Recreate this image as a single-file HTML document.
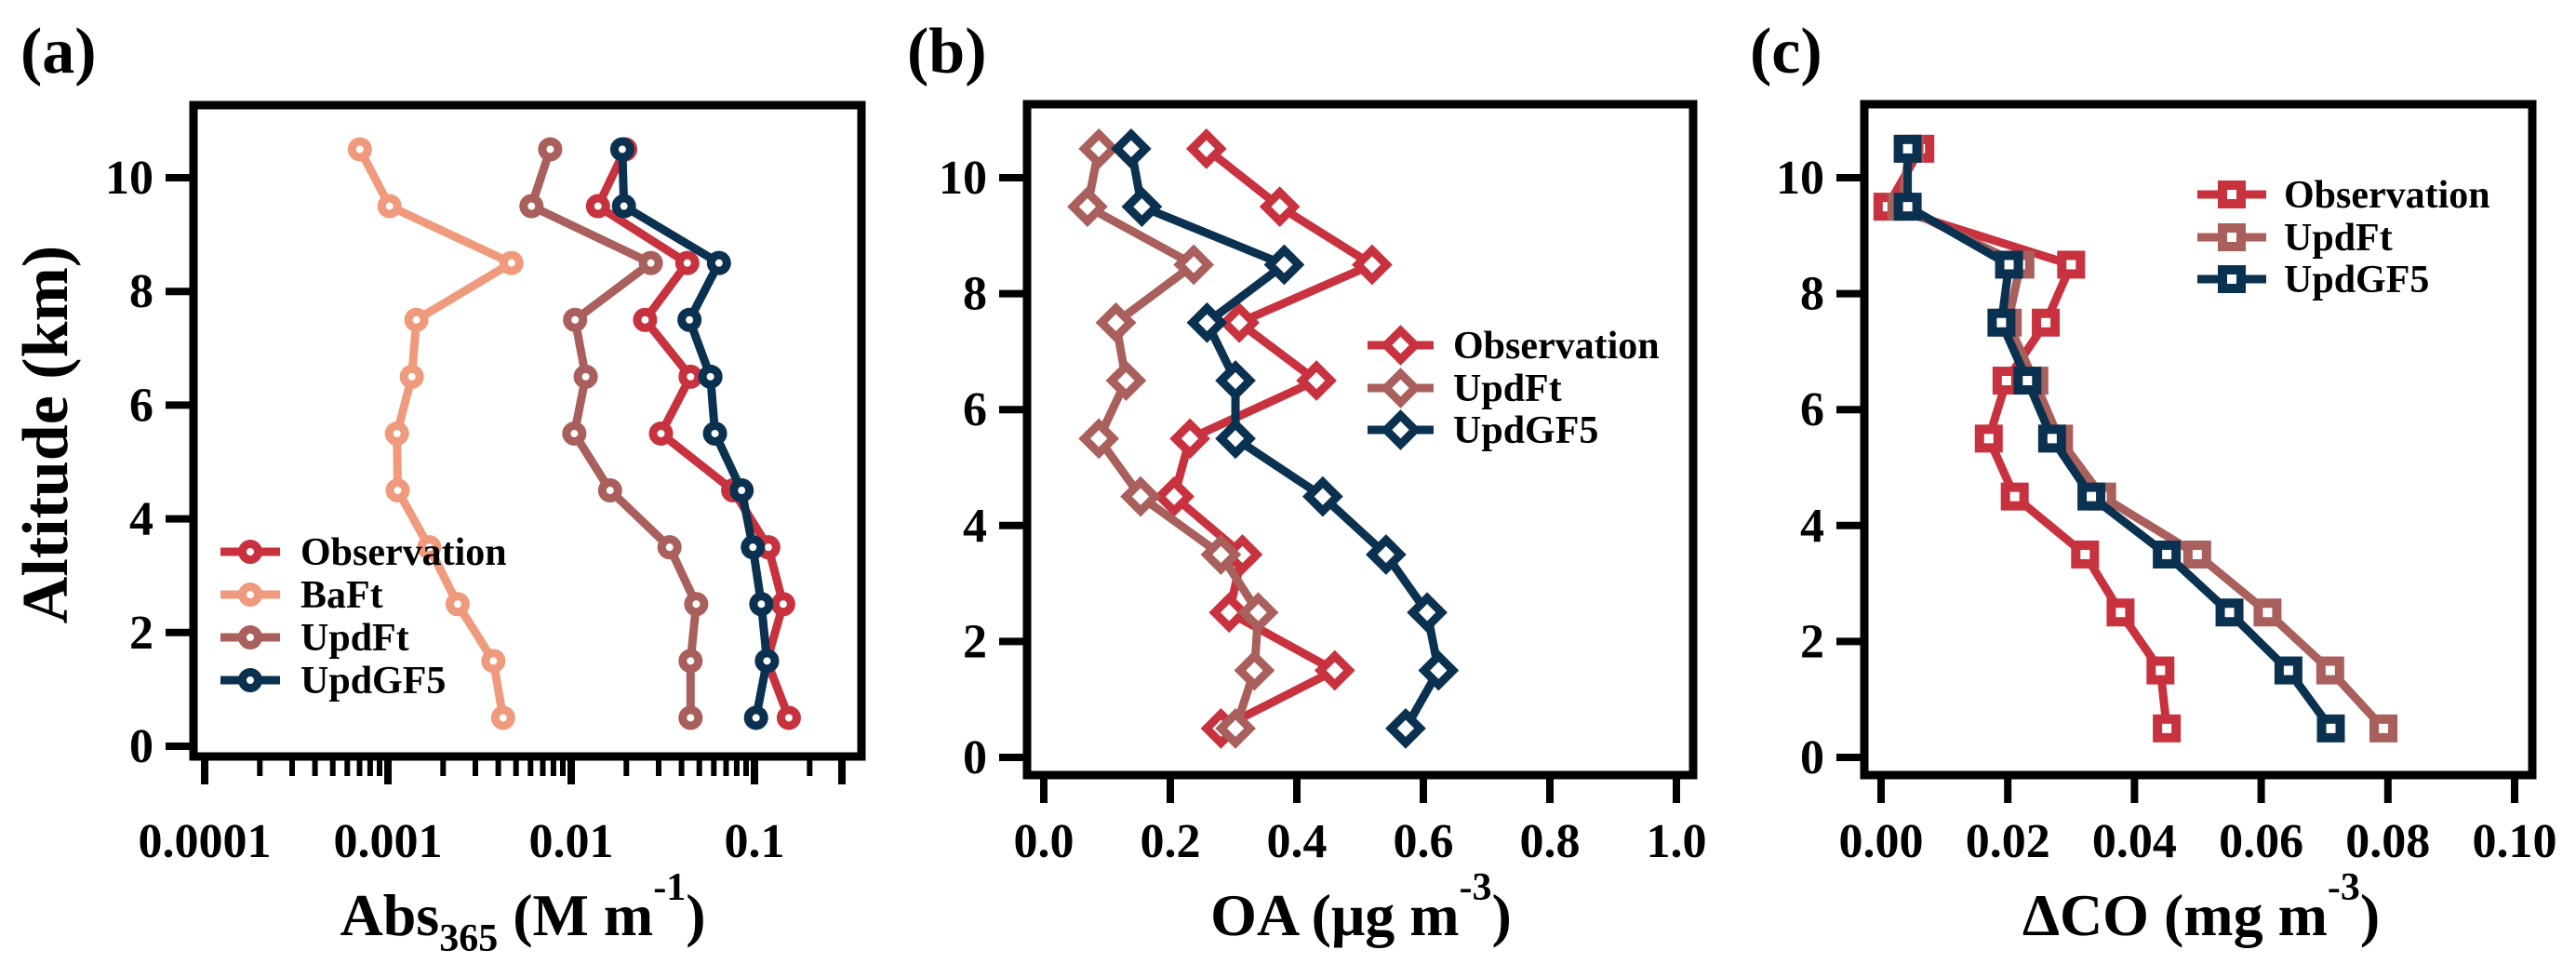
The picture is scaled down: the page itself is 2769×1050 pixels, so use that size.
<!DOCTYPE html>
<html><head><meta charset="utf-8">
<style>
html,body{margin:0;padding:0;background:#fff;}
svg, svg text{font-family:"Liberation Serif","DejaVu Serif",serif;font-weight:bold;}
svg{display:block;}
</style></head>
<body>
<svg id="fig" width="2769" height="1050" viewBox="0 0 2769 1050" xmlns="http://www.w3.org/2000/svg" font-family="Liberation Serif, DejaVu Serif, serif" font-weight="bold">
<rect width="2769" height="1050" fill="#fff"/>
<g id="pa"></g>
<g id="pb"></g>
<g id="pc"></g>
</svg>
<script>
// ---- shared data ----
const altitudes = [10.5, 9.5, 8.5, 7.5, 6.5, 5.5, 4.5, 3.5, 2.5, 1.5, 0.5];
const yTicks = [0, 2, 4, 6, 8, 10];

// panel (a) Abs365
const absObservation = [0.0197, 0.014, 0.043, 0.0253, 0.0448, 0.0309, 0.0765, 0.119, 0.1435, 0.117, 0.154];
const absBaFt = [0.000703, 0.00102, 0.00472, 0.00143, 0.00135, 0.00112, 0.00113, 0.00168, 0.0024, 0.00376, 0.00425];
const absUpdFt = [0.00768, 0.00607, 0.0272, 0.0105, 0.012, 0.0104, 0.0163, 0.0344, 0.0481, 0.0448, 0.0448];
const absUpdGF5 = [0.019, 0.0194, 0.064, 0.0442, 0.0575, 0.0609, 0.0851, 0.098, 0.109, 0.117, 0.102];
const absTickValues = [0.0001, 0.001, 0.01, 0.1];
const absTickLabels = ["0.0001", "0.001", "0.01", "0.1"];

// panel (b) OA
const oaObservation = [0.257, 0.373, 0.519, 0.309, 0.431, 0.231, 0.206, 0.314, 0.293, 0.46, 0.28];
const oaUpdFt = [0.087, 0.069, 0.237, 0.114, 0.13, 0.087, 0.153, 0.28, 0.339, 0.333, 0.303];
const oaUpdGF5 = [0.138, 0.155, 0.38, 0.258, 0.303, 0.303, 0.441, 0.541, 0.606, 0.624, 0.572];
const oaTickValues = [0, 0.2, 0.4, 0.6, 0.8, 1.0];
const oaTickLabels = ["0.0", "0.2", "0.4", "0.6", "0.8", "1.0"];

// panel (c) delta CO
const coObservation = [0.0062, 0.001, 0.030, 0.026, 0.0198, 0.017, 0.0211, 0.0322, 0.0378, 0.0441, 0.0451];
const coUpdFt = [0.0045, 0.0032, 0.022, 0.020, 0.0242, 0.0281, 0.0349, 0.0499, 0.061, 0.0709, 0.0793];
const coUpdGF5 = [0.0042, 0.0042, 0.0202, 0.019, 0.0231, 0.027, 0.0332, 0.0451, 0.055, 0.0643, 0.071];
const coTickValues = [0, 0.02, 0.04, 0.06, 0.08, 0.10];
const coTickLabels = ["0.00", "0.02", "0.04", "0.06", "0.08", "0.10"];

const C_OBS = "#c8323f", C_BAFT = "#ef9a7c", C_UPDFT = "#a95f5c", C_GF5 = "#0b3150";
const FONT = '"Liberation Serif", "DejaVu Serif", serif';
const NS = "http://www.w3.org/2000/svg";
function mk(tag, attrs, parent) {
  const e = document.createElementNS(NS, tag);
  for (const k in attrs) e.setAttribute(k, attrs[k]);
  if (tag === 'text') { e.setAttribute('font-family', FONT); e.setAttribute('font-weight', 'bold'); }
  if (parent) parent.appendChild(e);
  return e;
}
function slug(s){return s.toLowerCase().replace(/[^a-z0-9]+/g,'-');}

function marker(g, shape, x, y, color) {
  let m;
  if (shape === 'circle') {
    m = mk('circle', {cx: x, cy: y, r: 8.5, fill: '#fff', stroke: color, 'stroke-width': 9}, g);
  } else if (shape === 'diamond') {
    const h = 15.5;
    m = mk('path', {d: `M${x},${y-h} L${x+h},${y} L${x},${y+h} L${x-h},${y} Z`, fill: '#fff', stroke: color, 'stroke-width': 9, 'stroke-linejoin': 'miter'}, g);
  } else {
    m = mk('rect', {x: x-10, y: y-10, width: 20, height: 20, fill: '#fff', stroke: color, 'stroke-width': 10}, g);
  }
  return m;
}

function panel(cfg) {
  const g = document.getElementById(cfg.id);
  const {L, R, T, B, y0, y10} = cfg;
  const ys = v => y0 + (y10 - y0) * v / 10;
  const xs = cfg.xs;
  const lt = mk('text', {x: cfg.letterX, y: 78, 'font-size': 70}, g);
  lt.textContent = cfg.letter;
  
  
  yTicks.forEach(v => {
    const y = ys(v);
    const t = mk('line', {x1: L - 30, x2: L, y1: y, y2: y, stroke: '#000', 'stroke-width': 8}, g);
    
    
    const tl = mk('text', {x: L - 43, y: y + 17, 'font-size': 52, 'text-anchor': 'end'}, g);
    tl.textContent = String(v);
    
    
  });
  cfg.tickValues.forEach((v, i) => {
    const x = xs(v);
    const t = mk('line', {x1: x, x2: x, y1: B, y2: B + 30, stroke: '#000', 'stroke-width': 8}, g);
    
    
    const tl = mk('text', {x: x, y: 921, 'font-size': 52, 'text-anchor': 'middle'}, g);
    tl.textContent = cfg.tickLabels[i];
    
    
  });
  if (cfg.minor) {
    cfg.minor.forEach(v => {
      const x = xs(v);
      if (x < L || x > R + 2) return;
      const t = mk('line', {x1: x, x2: x, y1: B, y2: B + 21, stroke: '#000', 'stroke-width': 6}, g);
      
      
    });
  }
  cfg.series.forEach(s => {
    const sg = mk('g', {}, g);
    
    
    const pts = s.values.map((v, i) => [xs(v), ys(altitudes[i])]);
    const pl = mk('polyline', {points: pts.map(p => p.join(',')).join(' '), fill: 'none', stroke: s.color, 'stroke-width': 9, 'stroke-linejoin': 'miter'}, sg);
    
    
    pts.forEach(p => {
      const m = marker(sg, cfg.shape, p[0], p[1], s.color);
      
      
    });
  });
  const fr = mk('rect', {x: L, y: T, width: R - L, height: B - T, fill: 'none', stroke: '#000', 'stroke-width': 9}, g);
  
  
  const lg = mk('g', {}, g);
  
  
  cfg.series.forEach((s, i) => {
    const y = cfg.leg.ys[i];
    const eg = mk('g', {}, lg);
    
    
    mk('line', {x1: cfg.leg.x1, x2: cfg.leg.x2, y1: y, y2: y, stroke: s.color, 'stroke-width': 9}, eg);
    marker(eg, cfg.shape, (cfg.leg.x1 + cfg.leg.x2) / 2, y, s.color);
    const tx = mk('text', {x: cfg.leg.tx, y: y + 14, 'font-size': 42}, eg);
    tx.textContent = s.name;
  });
  const xt = mk('text', {x: cfg.titleX, y: 1005, 'font-size': 64, 'text-anchor': 'middle'}, g);
  
  
  xt.innerHTML = cfg.title;
}

const aLo = 220, aDec = 197;
const xsA = v => aLo + aDec * (Math.log10(v) + 4);
const aMinor = [];
for (let e = -4; e <= -1; e++) for (let k = 2; k <= 9; k++) aMinor.push(k * Math.pow(10, e));
panel({id: 'pa', letter: '(a)', letterX: 22, L: 208, R: 926, T: 113, B: 813, y0: 802, y10: 191,
  xs: xsA, tickValues: absTickValues, tickLabels: absTickLabels, minor: aMinor, shape: 'circle',
  series: [
    {name: 'Observation', color: C_OBS, values: absObservation},
    {name: 'BaFt', color: C_BAFT, values: absBaFt},
    {name: 'UpdFt', color: C_UPDFT, values: absUpdFt},
    {name: 'UpdGF5', color: C_GF5, values: absUpdGF5}],
  leg: {x1: 237, x2: 301, tx: 323, ys: [593, 639, 685, 731]},
  titleX: 562, title: 'Abs<tspan font-size="42" dy="17">365</tspan><tspan dy="-17"> (M m</tspan><tspan font-size="42" dy="-38">-1</tspan><tspan dy="38">)</tspan>'});

const xsB = v => 1122 + 680 * v;
panel({id: 'pb', letter: '(b)', letterX: 975, L: 1104, R: 1820, T: 112, B: 833, y0: 814, y10: 191,
  xs: xsB, tickValues: oaTickValues, tickLabels: oaTickLabels, shape: 'diamond',
  series: [
    {name: 'Observation', color: C_OBS, values: oaObservation},
    {name: 'UpdFt', color: C_UPDFT, values: oaUpdFt},
    {name: 'UpdGF5', color: C_GF5, values: oaUpdGF5}],
  leg: {x1: 1470, x2: 1541, tx: 1562, ys: [371, 417, 462]},
  titleX: 1463, title: 'OA (μg m<tspan font-size="42" dy="-38">-3</tspan><tspan dy="38">)</tspan>'});

const xsC = v => 2022 + 6810 * v;
panel({id: 'pc', letter: '(c)', letterX: 1881, L: 2004, R: 2722, T: 112, B: 833, y0: 814, y10: 191,
  xs: xsC, tickValues: coTickValues, tickLabels: coTickLabels, shape: 'square',
  series: [
    {name: 'Observation', color: C_OBS, values: coObservation},
    {name: 'UpdFt', color: C_UPDFT, values: coUpdFt},
    {name: 'UpdGF5', color: C_GF5, values: coUpdGF5}],
  leg: {x1: 2362, x2: 2436, tx: 2455, ys: [209, 255, 300]},
  titleX: 2366, title: 'ΔCO (mg m<tspan font-size="42" dy="-38">-3</tspan><tspan dy="38">)</tspan>'});

(function(){
  const g = document.getElementById('pa');
  const t = mk('line', {x1: xsA(0.3), x2: xsA(0.3), y1: 813, y2: 843, stroke: '#000', 'stroke-width': 8}, g);
  
  
})();

(function(){
  const svg = document.getElementById('fig');
  const yt = mk('text', {x: 0, y: 0, 'font-size': 70, 'text-anchor': 'middle', transform: 'translate(72,467) rotate(-90)'}, svg);
  yt.textContent = 'Altitude (km)';
  
  
})();
</script>
</body></html>
